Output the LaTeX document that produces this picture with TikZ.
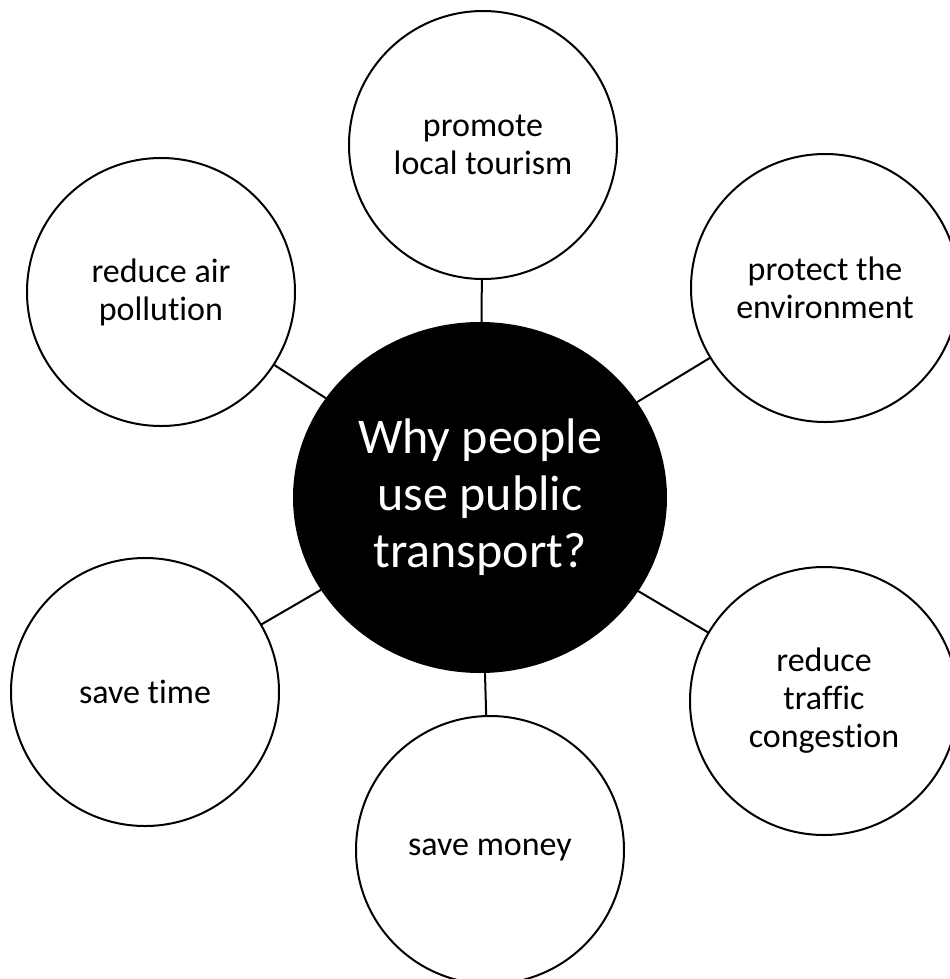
\documentclass[tikz,border=0pt]{standalone}
\usepackage{fontspec}
\setmainfont{Carlito}[Ligatures=NoCommon]
\usetikzlibrary{shapes.geometric}
\begin{document}
\begin{tikzpicture}[x=0.75pt, y=-0.75pt, line join=round, line cap=round, line width=1.5pt,
    reason/.style={circle, draw, fill=white, minimum size=201pt, inner sep=0pt, align=center, font=\fontsize{25.5}{28.5}\selectfont},
    question/.style={ellipse, draw, fill=black, text=white, minimum width=279pt, minimum height=261.75pt, inner sep=0pt, align=center, font=\fontsize{37.5}{42.75}\selectfont}]
    \useasboundingbox (0,0) rectangle (950,979);
    \node[question] (why) at (480,497.5) {Why people\\use public\\transport?};
    \node[reason] (tourism) at (483,145) {promote\\local tourism};
    \node[reason] (environment) at (825,288) {protect the\\environment};
    \node[reason] (traffic) at (824,701) {reduce\\traffic\\congestion};
    \node[reason] (money) at (490,850) {save money};
    \node[reason] (time) at (145,692) {save time};
    \node[reason] (air) at (161,292) {reduce air\\pollution};
    \foreach \r in {tourism,environment,traffic,money,time,air}\draw (why)--(\r);
\end{tikzpicture}
\end{document}
